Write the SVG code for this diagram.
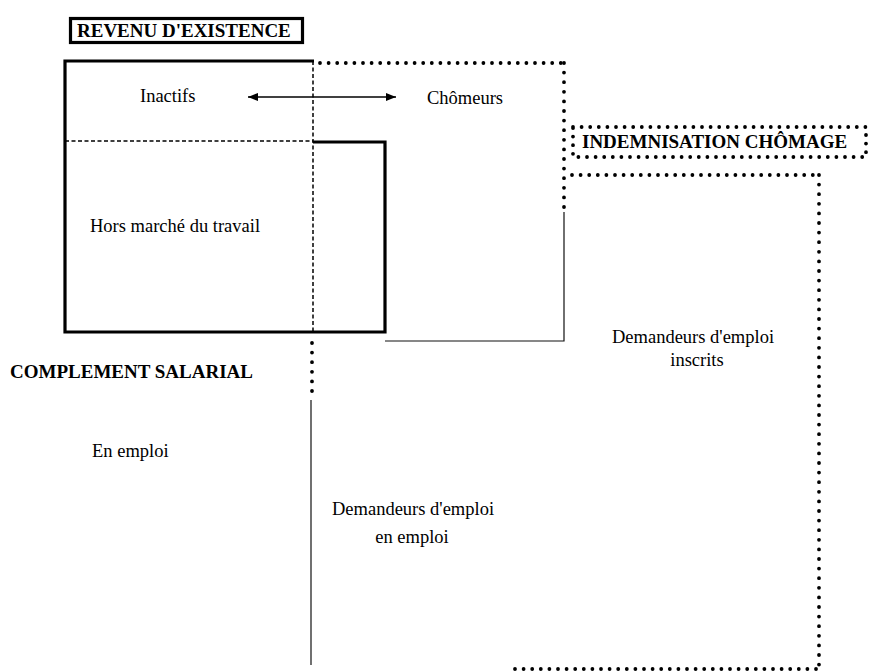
<svg xmlns="http://www.w3.org/2000/svg" width="871" height="672" viewBox="0 0 871 672">
<defs>
<style>
.t{font-family:"Liberation Serif","Times New Roman",serif;font-size:18.5px;fill:#000}
.b{font-weight:bold;font-size:19px}
.thick{fill:none;stroke:#000;stroke-width:3.2}
.thin{fill:none;stroke:#111;stroke-width:1.2}
.dash{fill:none;stroke:#000;stroke-width:1.5;stroke-dasharray:4 2.5}
.dot{fill:none;stroke:#000;stroke-width:3.8;stroke-linecap:round;stroke-dasharray:0 8.6}
.dotv{fill:none;stroke:#000;stroke-width:3.8;stroke-linecap:round;stroke-dasharray:0 9.6}
</style>
<marker id="ah" viewBox="0 0 10 8" refX="10" refY="4" markerWidth="11" markerHeight="8" markerUnits="userSpaceOnUse" orient="auto-start-reverse">
<path d="M0,0 L10,4 L0,8 Z" fill="#000"/>
</marker>
</defs>
<rect width="871" height="672" fill="#fff"/>

<g id="revenu-existence">
<rect x="70.5" y="18.5" width="232" height="24" class="thick" stroke-width="3.6"/>
<text x="77" y="37" class="t b">REVENU D'EXISTENCE</text>
<path d="M314,61 H65 V332 H385 V142 H313" class="thick"/>
</g>

<g id="inactifs"><text x="140" y="102" class="t">Inactifs</text></g>
<g id="chomeurs"><text x="427" y="104" class="t">Chômeurs</text></g>
<g id="hors-marche"><text x="90" y="232" class="t">Hors marché du travail</text></g>

<g id="indemnisation-chomage">
<path d="M320,63 H564" class="dot"/>
<path d="M564,63 V212" class="dotv"/>
<rect x="573" y="127" width="293" height="30" class="dot"/>
<text x="582" y="148" class="t b">INDEMNISATION CHÔMAGE</text>
<path d="M572,175 H819" class="dot"/>
<path d="M819,175 V669" class="dotv"/>
<path d="M515,669 H819" class="dot"/>
</g>

<g id="complement-salarial">
<text x="10" y="378" class="t b">COMPLEMENT SALARIAL</text>
</g>
<g id="en-emploi"><text x="92" y="457" class="t">En emploi</text></g>
<g id="demandeurs-inscrits">
<text x="693" y="343" class="t" text-anchor="middle">Demandeurs d'emploi</text>
<text x="697" y="366" class="t" text-anchor="middle">inscrits</text>
</g>
<g id="demandeurs-en-emploi">
<text x="413" y="515" class="t" text-anchor="middle">Demandeurs d'emploi</text>
<text x="412" y="543" class="t" text-anchor="middle">en emploi</text>
</g>

<g id="connectors">
<path d="M313,61 V332" class="dash"/>
<path d="M65,141 H313" class="dash"/>
<path d="M312,343 V393" class="dotv"/>
<path d="M311,400 V665" class="thin"/>
<path d="M564,212 V341 H385" class="thin"/>
<path d="M248,97 H396" stroke="#000" stroke-width="1.6" marker-start="url(#ah)" marker-end="url(#ah)"/>
</g>
</svg>
